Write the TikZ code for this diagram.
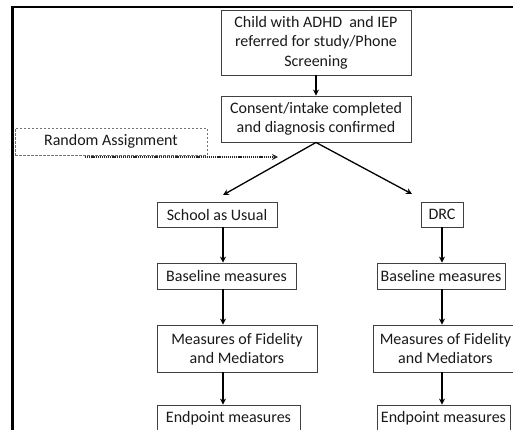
\documentclass[tikz,border=0pt]{standalone}
\usepackage{fontspec}
\setmainfont{Carlito}
\usetikzlibrary{arrows.meta}

\begin{document}
\begin{tikzpicture}[x=1pt, y=-1pt,
    box/.style={draw=black!75, line width=0.9pt, inner sep=0pt, align=center,
      text=black!90, font=\fontsize{16}{19.5}\selectfont},
    flow/.style={-{Stealth[length=6pt, width=6pt]}, line width=1.3pt},
    assign/.style={-{Stealth[length=6pt, width=6pt]}, line width=1.6pt,
      dash pattern=on 1.2pt off 0.9pt, black!85}]
  \useasboundingbox (0, 0) rectangle (513, 429);
  % Draw outer frame
  \draw [line width=2.5pt] (12.5, 440) -- (12.5, 7) -- (520, 7);
  % Add intake boxes
  \node [box, minimum width=190pt, minimum height=65pt] (child) at (316, 42.5)
    {Child with ADHD\ \ and IEP\\referred for study/Phone\\Screening};
  \node [box, minimum width=190pt, minimum height=46pt] (consent) at (316, 119)
    {Consent/intake completed\\and diagnosis confirmed};
  \node [box, draw=black!55, dashed, dash pattern=on 2.5pt off 1.5pt,
    minimum width=192pt, minimum height=27pt] (random) at (111, 141.5)
    {Random Assignment};
  % Add school as usual column
  \node [box, minimum width=120pt, minimum height=25pt] (school) at (217, 214.5) {School as Usual};
  \node [box, minimum width=139pt, minimum height=26pt] (sbase) at (226.5, 276) {Baseline measures};
  \node [box, minimum width=160pt, minimum height=47pt] (smeas) at (237, 348.5)
    {Measures of Fidelity\\and Mediators};
  \node [box, minimum width=143pt, minimum height=26pt] (send) at (228.5, 418) {Endpoint measures};
  % Add DRC column
  \node [box, minimum width=42pt, minimum height=25pt] (drc) at (442, 214.5) {DRC};
  \node [box, minimum width=128pt, minimum height=26pt] (dbase) at (441, 276) {Baseline measures};
  \node [box, minimum width=145pt, minimum height=47pt] (dmeas) at (445.5, 348.5)
    {Measures of Fidelity\\and Mediators};
  \node [box, minimum width=133pt, minimum height=26pt] (dend) at (443.5, 418) {Endpoint measures};
  % Arrow columns and free ends
  \coordinate (lcol) at (223, 0);
  \coordinate (rcol) at (442, 0);
  \coordinate (ltip) at (223, 195);
  \coordinate (rtip) at (412, 194);
  \coordinate (rastart) at (85, 157);
  \coordinate (ratip) at (278, 157);
  % Draw arrows
  \draw [flow] (child) -- (consent);
  \draw [flow] (consent.south) -- (ltip);
  \draw [flow] (consent.south) -- (rtip);
  \draw [assign] (rastart) -- (ratip);
  \draw [flow] (school.south -| lcol) -- (sbase.north -| lcol);
  \draw [flow] (sbase.south -| lcol) -- (smeas.north -| lcol);
  \draw [flow] (smeas.south -| lcol) -- (send.north -| lcol);
  \draw [flow] (drc.south -| rcol) -- (dbase.north -| rcol);
  \draw [flow] (dbase.south -| rcol) -- (dmeas.north -| rcol);
  \draw [flow] (dmeas.south -| rcol) -- (dend.north -| rcol);
\end{tikzpicture}
\end{document}
